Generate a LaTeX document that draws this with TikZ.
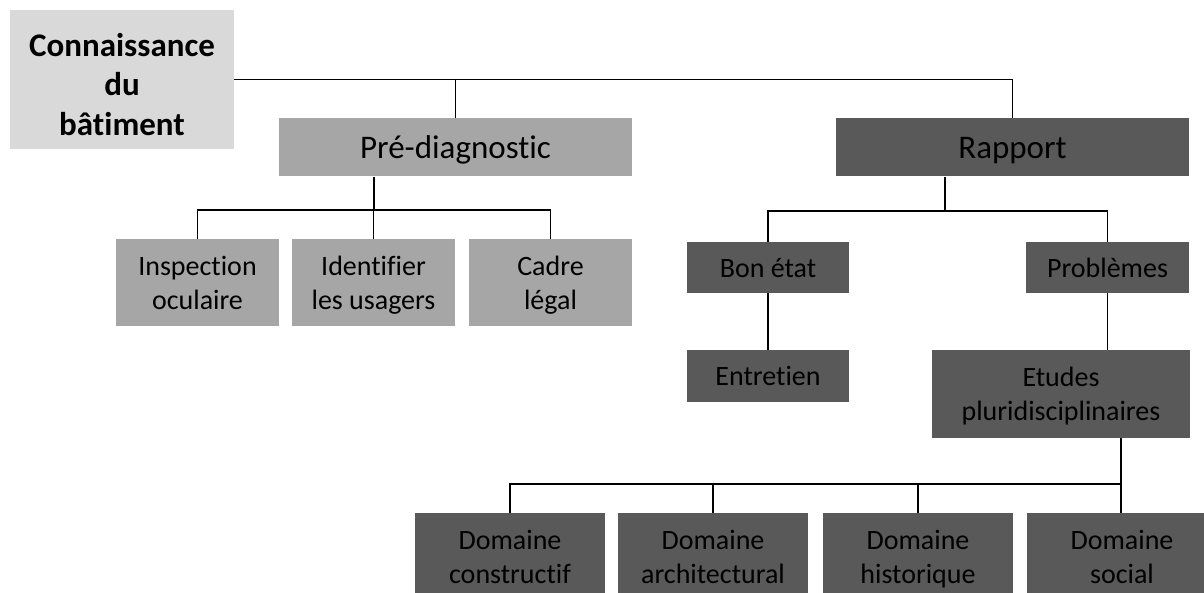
\documentclass[tikz,border=0pt]{standalone}
\usepackage{fontspec}
\setmainfont{Carlito}[Ligatures={NoCommon,NoContextual}]
\definecolor{lightg}{HTML}{D9D9D9}
\definecolor{midg}{HTML}{A6A6A6}
\definecolor{darkg}{HTML}{595959}
\newcommand\fst{\vrule width 0pt height 0.98em depth 0pt\relax}
\newcommand\fstr{\vrule width 0pt height 1.28em depth 0pt\relax}
\newcommand\lst{\vrule width 0pt height 0pt depth 0.3em\relax}
\begin{document}
\begin{tikzpicture}[x=1pt,y=-1pt,
  box/.style={rectangle, inner sep=0pt, align=center, text=black},
  lbox/.style={box, fill=lightg, font=\fontsize{33}{39.5}\selectfont\bfseries},
  bigm/.style={box, fill=midg, font=\fontsize{33}{40}\selectfont},
  bigd/.style={box, fill=darkg, font=\fontsize{33}{40}\selectfont},
  smm/.style={box, fill=midg, font=\fontsize{28}{34}\selectfont},
  smd/.style={box, fill=darkg, font=\fontsize{28}{34.5}\selectfont},
  conn/.style={draw=black, line width=1.3pt}]
\fill[white] (0,0) rectangle (1204,593);
\clip (0,0) rectangle (1204,593);
% nodes
\node[lbox, minimum width=224pt, minimum height=139pt] (root) at (122,79.5) {\fstr Connaissance\\du\\bâtiment\lst};
\node[bigm, minimum width=353pt, minimum height=58pt] (pre) at (455.5,147.5) {\fst Pré-diagnostic\lst};
\node[bigd, minimum width=353pt, minimum height=58pt] (rap) at (1012.5,147.5) {\fst Rapport\lst};
\node[smm, minimum width=163pt, minimum height=87pt] (insp) at (197.5,282.5) {\fst Inspection\\oculaire\lst};
\node[smm, minimum width=163pt, minimum height=87pt] (ident) at (373.5,282.5) {\fst Identifier\\les usagers\lst};
\node[smm, minimum width=163pt, minimum height=87pt] (cadre) at (550.5,282.5) {\fst Cadre\\légal\lst};
\node[smd, minimum width=162pt, minimum height=51pt] (bon) at (768,267.5) {\fst Bon état\lst};
\node[smd, minimum width=163pt, minimum height=51pt] (prob) at (1107.5,267.5) {\fst Problèmes\lst};
\node[smd, minimum width=162pt, minimum height=52pt] (ent) at (768,376) {\fst Entretien\lst};
\node[smd, minimum width=258pt, minimum height=88pt] (etu) at (1061,394) {\fst Etudes\\pluridisciplinaires\lst};
\node[smd, minimum width=190pt, minimum height=88pt] (d1) at (510,557) {\fst Domaine\\constructif\lst};
\node[smd, minimum width=190pt, minimum height=88pt] (d2) at (713,557) {\fst Domaine\\architectural\lst};
\node[smd, minimum width=190pt, minimum height=88pt] (d3) at (918,557) {\fst Domaine\\historique\lst};
\node[smd, minimum width=190pt, minimum height=88pt] (d4) at (1122,557) {\fst Domaine\\social\lst};
% junction coordinates
\coordinate (pb) at (374,210);
\coordinate (rb) at (945,211);
\coordinate (eb) at (1121,484);
% connectors
\draw[conn] (root.east) -| (rap.north);
\draw[conn] (pre.north) -- (pre.north |- root.east);
\draw[conn] (pb |- pre.south) -- (pb);
\draw[conn] (insp.north) |- (pb) -| (cadre.north);
\draw[conn] (ident.north) -- (ident.north |- pb);
\draw[conn] (rb |- rap.south) -- (rb);
\draw[conn] (bon.north) |- (rb) -| (prob.north);
\draw[conn] (bon.south) -- (ent.north);
\draw[conn] (prob.south) -- (prob.south |- etu.north);
\draw[conn] (eb |- etu.south) -- (eb);
\draw[conn] (d1.north) |- (eb) -- (eb |- d4.north);
\draw[conn] (d2.north) -- (d2.north |- eb);
\draw[conn] (d3.north) -- (d3.north |- eb);
\end{tikzpicture}
\end{document}
